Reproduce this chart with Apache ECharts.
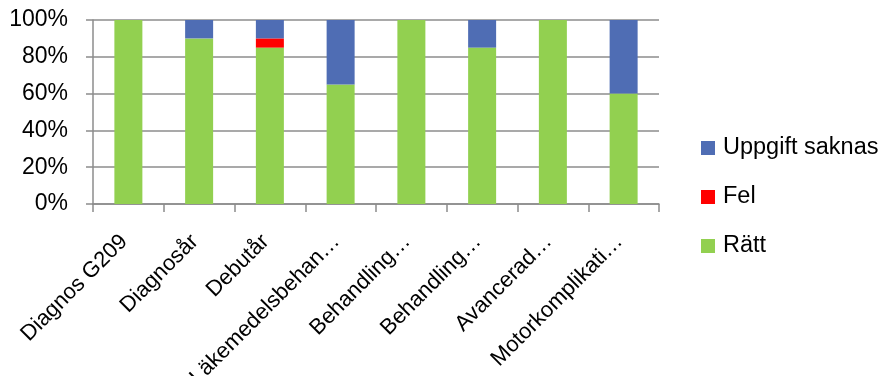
<!DOCTYPE html>
<html>
<head>
<meta charset="utf-8">
<script src="https://cdn.jsdelivr.net/npm/echarts@6/dist/echarts.min.js"></script>
<style>
  html, body { margin: 0; padding: 0; background: #fff; }
  #chart { width: 883px; height: 376px; }
</style>
</head>
<body>
<div id="chart"></div>
<script>
// Registry fields checked, share of records per outcome (%)
const categories = ['Diagnos G209', 'Diagnosår', 'Debutår', 'Läkemedelsbehan…', 'Behandling…', 'Behandling…', 'Avancerad…', 'Motorkomplikati…'];
const ratt = [100, 90, 85, 65, 100, 85, 100, 60];
const fel = [0, 0, 5, 0, 0, 0, 0, 0];
const saknas = [0, 10, 10, 35, 0, 15, 0, 40];
const yTicks = [0, 20, 40, 60, 80, 100];

const FONT = 'Liberation Sans';
const GRID_GRAY = '#8c8c8c';

const chart = echarts.init(document.getElementById('chart'), null, { renderer: 'canvas' });

const barBase = {
  type: 'bar',
  stack: 'total',
  barWidth: 28,
  itemStyle: { borderWidth: 0 }
};

chart.setOption({
  animation: false,
  textStyle: { fontFamily: FONT },
  grid: { left: 93, right: 224, top: 20, bottom: 172, containLabel: false, outerBoundsMode: 'none' },
  legend: {
    orient: 'vertical',
    left: 701,
    top: 136,
    padding: 0,
    itemWidth: 14,
    itemHeight: 14,
    itemGap: 25,
    icon: 'rect',
    textStyle: { fontFamily: FONT, fontSize: 23.5, color: '#000', padding: [0, 0, 0, 3] },
    data: ['Uppgift saknas', 'Fel', 'Rätt']
  },
  xAxis: {
    type: 'category',
    data: categories,
    boundaryGap: true,
    axisLine: { show: true, lineStyle: { color: GRID_GRAY, width: 1.5 } },
    axisTick: { show: true, length: 8, alignWithLabel: false, lineStyle: { color: GRID_GRAY, width: 1.5 } },
    axisLabel: {
      interval: 0,
      rotate: 45,
      margin: 30,
      padding: [0, 6, 0, 0],
      fontFamily: FONT,
      fontSize: 22,
      color: '#000'
    }
  },
  yAxis: {
    type: 'value',
    min: yTicks[0],
    max: yTicks[yTicks.length - 1],
    interval: 20,
    axisLine: { show: true, lineStyle: { color: GRID_GRAY, width: 1.5 } },
    axisTick: { show: true, length: 7, inside: false, lineStyle: { color: GRID_GRAY, width: 1.5 } },
    splitLine: { show: true, lineStyle: { color: GRID_GRAY, width: 1.5 } },
    axisLabel: {
      margin: 25,
      fontFamily: FONT,
      fontSize: 23,
      color: '#000',
      formatter: v => v + '%'
    }
  },
  series: [
    Object.assign({}, barBase, { name: 'Rätt', data: ratt, itemStyle: { color: '#92D050' } }),
    Object.assign({}, barBase, { name: 'Fel', data: fel, itemStyle: { color: '#FF0000' } }),
    Object.assign({}, barBase, { name: 'Uppgift saknas', data: saknas, itemStyle: { color: '#4F6DB4' } })
  ]
});
</script>
</body>
</html>
